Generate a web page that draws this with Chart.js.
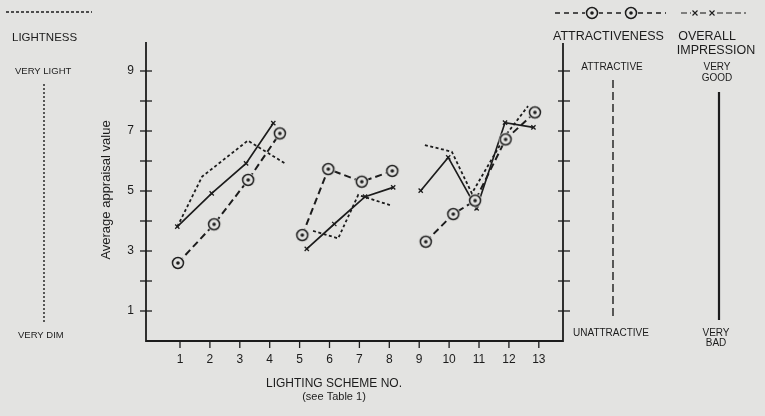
<!DOCTYPE html>
<html>
<head>
<meta charset="utf-8">
<script src="https://cdn.jsdelivr.net/npm/chart.js@4/dist/chart.umd.min.js"></script>
<style>
  html, body { margin: 0; padding: 0; background: #e3e3e1; }
  #wrap { width: 765px; height: 416px; position: relative; }
</style>
</head>
<body>
<div id="wrap"><canvas id="c" width="765" height="416"></canvas></div>
<script>
// Lighting schemes on the horizontal axis, appraisal ticks on the vertical axis
const schemeTicks = [1, 2, 3, 4, 5, 6, 7, 8, 9, 10, 11, 12, 13];
const valueTicks = [1, 2, 3, 4, 5, 6, 7, 8, 9];

// Each series is split into three scheme groups (null = break between groups).
// X positions follow where each mark sits along the scheme axis.
const attractX = [0.93, 2.14, 3.28, 4.34, null, 5.09, 5.96, 7.08, 8.10, null, 9.22, 10.14, 10.87, 11.89, 12.87];
const attractY = [2.60, 3.89, 5.37, 6.92, null, 3.53, 5.73, 5.31, 5.67, null, 3.31, 4.23, 4.68, 6.72, 7.62];

const overallX = [0.91, 2.06, 3.21, 4.12, null, 5.24, 6.16, 7.19, 8.13, null, 9.05, 9.97, 10.92, 11.87, 12.82];
const overallY = [3.81, 4.92, 5.92, 7.26, null, 3.07, 3.90, 4.81, 5.12, null, 5.01, 6.12, 4.42, 7.28, 7.12];

const lightX = [0.91, 1.74, 3.27, 4.51, null, 5.45, 6.29, 6.96, 8.02, null, 9.19, 10.09, 10.76, 11.90, 12.64];
const lightY = [3.81, 5.48, 6.68, 5.92, null, 3.67, 3.42, 4.87, 4.53, null, 6.53, 6.31, 4.92, 6.87, 7.83];

const INK = '#1c1c1c';
const PAPER = '#e3e3e1';
const FONT = '"Liberation Sans", Arial, Helvetica, sans-serif';

function toPoints(xs, ys) {
  const pts = [];
  for (let i = 0; i < xs.length; i++) {
    if (xs[i] === null) {
      pts.push({ x: xs[i - 1] + 0.2, y: null });
    } else {
      pts.push({ x: xs[i], y: ys[i] });
    }
  }
  return pts;
}

// Circled-dot marker
function circledDot(r) {
  const size = Math.ceil(r * 2 + 5);
  const cv = document.createElement('canvas');
  cv.width = size; cv.height = size;
  const g = cv.getContext('2d');
  const c = size / 2;
  g.fillStyle = PAPER;
  g.beginPath(); g.arc(c, c, r + 1.5, 0, Math.PI * 2); g.fill();
  g.strokeStyle = INK; g.lineWidth = 1.5;
  g.beginPath(); g.arc(c, c, r, 0, Math.PI * 2); g.stroke();
  g.fillStyle = INK;
  g.beginPath(); g.arc(c, c, 1.8, 0, Math.PI * 2); g.fill();
  return cv;
}
const circleMark = circledDot(5.5);

// Axes with crossing ticks, plus the side scales and legend keys
const framePlugin = {
  id: 'frame',
  beforeDatasetsDraw(chart) {
    const ctx = chart.ctx;
    const xs = chart.scales.x, ys = chart.scales.y;
    const L = xs.left, R = xs.right, B = ys.bottom;
    ctx.save();
    ctx.strokeStyle = INK;
    ctx.lineWidth = 1.8;
    ctx.beginPath();
    ctx.moveTo(L, 42); ctx.lineTo(L, B); ctx.lineTo(R, B); ctx.lineTo(R, 43);
    ctx.stroke();
    ctx.lineWidth = 1.3;
    valueTicks.forEach(v => {
      const y = ys.getPixelForValue(v);
      ctx.beginPath(); ctx.moveTo(L - 6, y); ctx.lineTo(L + 6, y); ctx.stroke();
      ctx.beginPath(); ctx.moveTo(R - 5, y); ctx.lineTo(R + 7, y); ctx.stroke();
    });
    schemeTicks.forEach(n => {
      const x = xs.getPixelForValue(n);
      ctx.beginPath(); ctx.moveTo(x, B + 1); ctx.lineTo(x, B + 7); ctx.stroke();
    });
    ctx.restore();
  },
  afterDraw(chart) {
    const ctx = chart.ctx;
    ctx.save();
    ctx.fillStyle = INK;
    ctx.strokeStyle = INK;

    // axis titles
    ctx.font = '13px ' + FONT;
    ctx.textAlign = 'center';
    ctx.textBaseline = 'middle';
    ctx.save();
    ctx.translate(106, 190);
    ctx.rotate(-Math.PI / 2);
    ctx.fillText('Average appraisal value', 0, 0);
    ctx.restore();
    ctx.font = '12px ' + FONT;
    ctx.fillText('LIGHTING SCHEME NO.', 334, 384);
    ctx.font = '11px ' + FONT;
    ctx.fillText('(see Table 1)', 334, 397);

    // left scale: lightness
    ctx.lineWidth = 1.4;
    ctx.setLineDash([3, 2]);
    ctx.beginPath(); ctx.moveTo(6, 12); ctx.lineTo(92, 12); ctx.stroke();
    ctx.setLineDash([2, 2]);
    ctx.beginPath(); ctx.moveTo(44, 84); ctx.lineTo(44, 322); ctx.stroke();
    ctx.setLineDash([]);
    ctx.textAlign = 'left';
    ctx.font = '11.5px ' + FONT;
    ctx.fillText('LIGHTNESS', 12, 38);
    ctx.font = '9.5px ' + FONT;
    ctx.fillText('VERY LIGHT', 15, 71);
    ctx.fillText('VERY DIM', 18, 335);

    // right scales: attractiveness and overall impression
    ctx.lineWidth = 1.6;
    ctx.setLineDash([5, 4]);
    ctx.beginPath(); ctx.moveTo(555, 13); ctx.lineTo(585, 13); ctx.stroke();
    ctx.beginPath(); ctx.moveTo(598, 13); ctx.lineTo(625, 13); ctx.stroke();
    ctx.beginPath(); ctx.moveTo(638, 13); ctx.lineTo(666, 13); ctx.stroke();
    ctx.drawImage(circleMark, 592 - circleMark.width / 2, 13 - circleMark.height / 2);
    ctx.drawImage(circleMark, 631 - circleMark.width / 2, 13 - circleMark.height / 2);
    ctx.setLineDash([6, 3]);
    ctx.lineWidth = 1.1;
    ctx.beginPath(); ctx.moveTo(681, 13); ctx.lineTo(691, 13); ctx.stroke();
    ctx.beginPath(); ctx.moveTo(700, 13); ctx.lineTo(708, 13); ctx.stroke();
    ctx.beginPath(); ctx.moveTo(717, 13); ctx.lineTo(746, 13); ctx.stroke();
    ctx.setLineDash([]);
    [695, 712].forEach(x => {
      ctx.beginPath();
      ctx.moveTo(x - 2.5, 10.5); ctx.lineTo(x + 2.5, 15.5);
      ctx.moveTo(x + 2.5, 10.5); ctx.lineTo(x - 2.5, 15.5);
      ctx.stroke();
    });

    ctx.lineWidth = 1.4;
    ctx.setLineDash([8, 4]);
    ctx.beginPath(); ctx.moveTo(613, 80); ctx.lineTo(613, 318); ctx.stroke();
    ctx.setLineDash([]);
    ctx.lineWidth = 2.2;
    ctx.beginPath(); ctx.moveTo(719, 92); ctx.lineTo(719, 320); ctx.stroke();

    ctx.font = '12.5px ' + FONT;
    ctx.textAlign = 'left';
    ctx.fillText('ATTRACTIVENESS', 553, 37);
    ctx.textAlign = 'center';
    ctx.fillText('OVERALL', 707, 37);
    ctx.fillText('IMPRESSION', 716, 51);
    ctx.font = '10px ' + FONT;
    ctx.fillText('ATTRACTIVE', 612, 67);
    ctx.fillText('UNATTRACTIVE', 611, 333);
    ctx.fillText('VERY', 717, 67);
    ctx.fillText('GOOD', 717, 78);
    ctx.fillText('VERY', 716, 333);
    ctx.fillText('BAD', 716, 343);
    ctx.restore();
  }
};

new Chart(document.getElementById('c'), {
  type: 'line',
  data: {
    datasets: [
      {
        label: 'Attractiveness',
        data: toPoints(attractX, attractY),
        borderColor: INK,
        borderWidth: 2,
        borderDash: [7, 4],
        pointStyle: circleMark,
        pointRadius: 6,
        spanGaps: false,
        tension: 0
      },
      {
        label: 'Overall impression',
        data: toPoints(overallX, overallY),
        borderColor: INK,
        borderWidth: 1.7,
        pointStyle: 'crossRot',
        pointRadius: 3,
        pointBorderWidth: 1.3,
        pointBorderColor: INK,
        spanGaps: false,
        tension: 0
      },
      {
        label: 'Lightness',
        data: toPoints(lightX, lightY),
        borderColor: INK,
        borderWidth: 1.8,
        borderDash: [3, 2.5],
        pointRadius: 0,
        spanGaps: false,
        tension: 0
      }
    ]
  },
  options: {
    responsive: false,
    animation: false,
    layout: { padding: { left: 95, right: 202, top: 41, bottom: 0 } },
    plugins: { legend: { display: false }, tooltip: { enabled: false } },
    scales: {
      x: {
        type: 'linear',
        min: -0.137,
        max: 13.809,
        afterFit(s) { s.height = 75; },
        afterBuildTicks(s) { s.ticks = schemeTicks.map(v => ({ value: v })); },
        grid: { display: true, drawOnChartArea: false, drawTicks: false, color: 'rgba(0,0,0,0)' },
        border: { display: false },
        ticks: {
          padding: 11,
          color: INK,
          font: { family: FONT, size: 12 },
          maxRotation: 0,
          autoSkip: false,
          callback: v => String(v)
        }
      },
      y: {
        type: 'linear',
        min: 0,
        max: 10,
        afterFit(s) { s.width = 51; },
        afterBuildTicks(s) { s.ticks = valueTicks.map(v => ({ value: v })); },
        grid: { display: true, drawOnChartArea: false, drawTicks: false, color: 'rgba(0,0,0,0)' },
        border: { display: false },
        ticks: {
          padding: 12,
          color: INK,
          font: { family: FONT, size: 12 },
          autoSkip: false,
          callback: v => (v % 2 === 1 ? String(v) : '')
        }
      }
    }
  },
  plugins: [framePlugin]
});
</script>
</body>
</html>
